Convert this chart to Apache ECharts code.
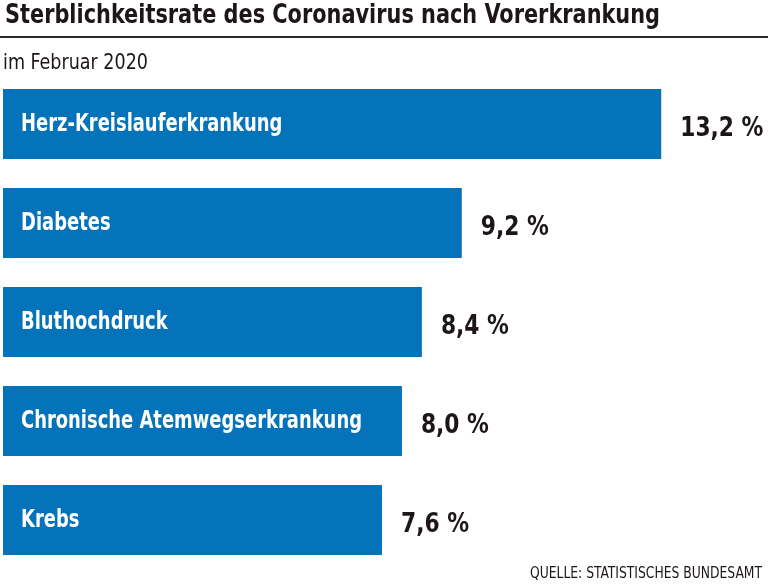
<!DOCTYPE html>
<html>
<head>
<meta charset="utf-8">
<script src="https://cdn.jsdelivr.net/npm/echarts@6/dist/echarts.min.js"></script>
<style>
html,body{margin:0;padding:0;background:#fff;}
#chart{width:768px;height:585px;}
</style>
</head>
<body>
<div id="chart"></div>
<script>
var titleText = 'Sterblichkeitsrate des Coronavirus nach Vorerkrankung';
var subtitleText = 'im Februar 2020';
var sourceText = 'QUELLE: STATISTISCHES BUNDESAMT';
var categories = ['Herz-Kreislauferkrankung', 'Diabetes', 'Bluthochdruck', 'Chronische Atemwegserkrankung', 'Krebs'];
var values = [13.2, 9.2, 8.4, 8.0, 7.6];

var FONT = '"DejaVu Sans Condensed", "DejaVu Sans", sans-serif';
var INK = '#1c1616';
var BLUE = '#0573b9';

function fmt(v) { return v.toFixed(1).replace('.', ',') + ' %'; }

var ctx = document.createElement('canvas').getContext('2d');
function fitScale(text, font, target) {
  ctx.font = font;
  return target / ctx.measureText(text).width;
}

var titleFont = 'bold 27px ' + FONT;
var subFont = '21px ' + FONT;
var srcFont = '16px ' + FONT;
var nameFont = 'bold 24px ' + FONT;
var valFont = 'bold 27px ' + FONT;

var titleScale = fitScale(titleText, titleFont, 655);
var subScale = fitScale(subtitleText, subFont, 145);
var srcScale = fitScale(sourceText, srcFont, 232);
var nameScale = fitScale('Chronische Atemwegserkrankung', nameFont, 341);
var valScale = fitScale('9,2 %', valFont, 68);

var chart = echarts.init(document.getElementById('chart'), null, {renderer: 'canvas'});
chart.setOption({
  animation: false,
  backgroundColor: '#fff',
  grid: {left: 3, right: 17, top: 74.5, bottom: 15.5, containLabel: false},
  xAxis: {type: 'value', min: 0, max: 15, show: false},
  yAxis: {type: 'category', data: categories, inverse: true, show: false},
  series: [
    {
      type: 'bar',
      data: values,
      barWidth: 70,
      itemStyle: {color: BLUE},
      silent: true
    },
    {
      type: 'custom',
      data: values.map(function (v, i) { return [v, i]; }),
      encode: {x: 0, y: 1},
      silent: true,
      z: 5,
      renderItem: function (params, api) {
        var idx = api.value(1);
        var v = api.value(0);
        var start = api.coord([0, idx]);
        var end = api.coord([v, idx]);
        return {
          type: 'group',
          children: [
            {
              type: 'text',
              x: start[0] + 18,
              y: start[1] + 1,
              scaleX: nameScale,
              style: {text: categories[idx], fill: '#fff', font: nameFont, align: 'left', verticalAlign: 'middle'}
            },
            {
              type: 'text',
              x: end[0] + 19,
              y: end[1] + 5,
              scaleX: valScale,
              style: {text: fmt(v), fill: INK, font: valFont, align: 'left', verticalAlign: 'middle'}
            }
          ]
        };
      }
    }
  ],
  graphic: [
    {type: 'text', x: 5, y: 16, scaleX: titleScale, style: {text: titleText, fill: INK, font: titleFont, align: 'left', verticalAlign: 'middle'}},
    {type: 'rect', shape: {x: 0, y: 36, width: 768, height: 2}, style: {fill: '#2a2a2a'}},
    {type: 'text', x: 3, y: 64, scaleX: subScale, style: {text: subtitleText, fill: INK, font: subFont, align: 'left', verticalAlign: 'middle'}},
    {type: 'text', x: 762, y: 574, scaleX: srcScale, style: {text: sourceText, fill: INK, font: srcFont, align: 'right', verticalAlign: 'middle'}}
  ]
});
</script>
</body>
</html>
